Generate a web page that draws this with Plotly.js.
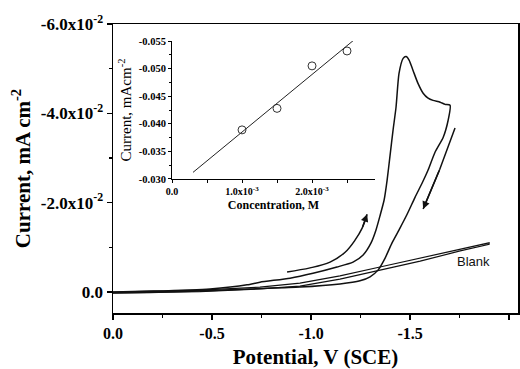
<!DOCTYPE html>
<html>
<head>
<meta charset="utf-8">
<script src="https://cdn.plot.ly/plotly-3.0.1.min.js"></script>
<style>html,body{margin:0;padding:0;background:#fff;}#chart{width:520px;height:369px;}</style>
</head>
<body>
<div id="chart"></div>
<script>
// ---- Main CV data (Potential V vs SCE, Current mA cm^-2) ----
const cvPotential = [0, -0.187, -0.439, -0.692, -0.944, -1.146, -1.247, -1.298, -1.338, -1.374, -1.409, -1.449, -1.485, -1.525, -1.561, -1.591, -1.626, -1.667, -1.692, -1.702,
  -1.677, -1.652, -1.616, -1.591, -1.566, -1.540, -1.515, -1.495, -1.480, -1.465, -1.444, -1.429, -1.414, -1.399, -1.384, -1.369, -1.349, -1.328, -1.303, -1.263, -1.212, -1.131, -1.010, -0.894, -0.742, -0.677, -0.490, -0.202, 0];
const cvCurrent = [0.0002, 0.0001, -0.0002, -0.0007, -0.0011, -0.0018, -0.0025, -0.0034, -0.0049, -0.0076, -0.0110, -0.0143, -0.0174, -0.0212, -0.0244, -0.0273, -0.0313, -0.0346, -0.0384, -0.0418,
  -0.0420, -0.0425, -0.0429, -0.0434, -0.0445, -0.0467, -0.0496, -0.0519, -0.0527, -0.0523, -0.0489, -0.0413, -0.0362, -0.0306, -0.0250, -0.0206, -0.0172, -0.0139, -0.0110, -0.0083, -0.0067, -0.0056, -0.0042, -0.0031, -0.0022, -0.0016, -0.0007, -0.0002, 0];

const blankPotential = [0, -0.439, -0.742, -0.944, -1.146, -1.348, -1.551, -1.753, -1.899,
  -1.899, -1.753, -1.551, -1.348, -1.146, -0.944, -0.742, -0.439, 0];
const blankCurrent = [0.0002, -0.0001, -0.0007, -0.0013, -0.0029, -0.0049, -0.0069, -0.0092, -0.0107,
  -0.0110, -0.0096, -0.0076, -0.0056, -0.0036, -0.0020, -0.0011, -0.0004, 0];

// scan-direction arrows
const arrowFwdPotential = [-0.879, -0.995, -1.096, -1.172, -1.222, -1.258, -1.283];
const arrowFwdCurrent = [-0.0045, -0.0054, -0.0067, -0.0089, -0.0116, -0.0143, -0.0174];
const arrowRevPotential = [-1.727, -1.650, -1.566];
const arrowRevCurrent = [-0.0367, -0.0275, -0.0186];

// ---- Inset: current vs concentration ----
const concentration = [0.0010, 0.0015, 0.0020, 0.0025];
const insetCurrent = [-0.0389, -0.0428, -0.0505, -0.0532];
const fitConc = [0.00030, 0.00259];
const fitCurrent = [-0.0312, -0.0551];

// tick labels
const mainXTicks = [0, -0.5, -1.0, -1.5, -2.0];
const mainXText = ['0.0', '-0.5', '-1.0', '-1.5', '-2.0'];
const mainYTicks = [0, -0.02, -0.04, -0.06];
const mainYText = ['0.0', '-2.0x10<sup>-2</sup>', '-4.0x10<sup>-2</sup>', '-6.0x10<sup>-2</sup>'];
const insetXTicks = [0, 0.001, 0.002];
const insetXText = ['0.0', '1.0x10<sup>-3</sup>', '2.0x10<sup>-3</sup>'];
const insetYTicks = [-0.055, -0.050, -0.045, -0.040, -0.035, -0.030];
const insetYText = ['-0.055', '-0.050', '-0.045', '-0.040', '-0.035', '-0.030'];

const serif = 'Liberation Serif, Times New Roman, serif';
const black = '#000';

const traces = [
  {x: blankPotential, y: blankCurrent, mode: 'lines', line: {color: '#111', width: 1.2}, xaxis: 'x', yaxis: 'y', hoverinfo: 'skip'},
  {x: cvPotential, y: cvCurrent, mode: 'lines', line: {color: '#111', width: 1.5, shape: 'spline', smoothing: 0.6}, xaxis: 'x', yaxis: 'y', hoverinfo: 'skip'},
  {x: arrowFwdPotential, y: arrowFwdCurrent, mode: 'lines', line: {color: '#111', width: 1.5, shape: 'spline'}, xaxis: 'x', yaxis: 'y', hoverinfo: 'skip'},
  {x: arrowRevPotential, y: arrowRevCurrent, mode: 'lines', line: {color: '#111', width: 1.5}, xaxis: 'x', yaxis: 'y', hoverinfo: 'skip'},
  {x: fitConc, y: fitCurrent, mode: 'lines', line: {color: '#222', width: 1}, xaxis: 'x2', yaxis: 'y2', hoverinfo: 'skip'},
  {x: concentration, y: insetCurrent, mode: 'markers', marker: {symbol: 'circle-open', size: 8, color: '#333', line: {width: 1}}, xaxis: 'x2', yaxis: 'y2', hoverinfo: 'skip'}
];

const nF = arrowFwdPotential.length, nR = arrowRevPotential.length;
const annotations = [
  {x: arrowFwdPotential[nF - 1], y: arrowFwdCurrent[nF - 1], ax: arrowFwdPotential[nF - 2], ay: arrowFwdCurrent[nF - 2],
   xref: 'x', yref: 'y', axref: 'x', ayref: 'y', showarrow: true, arrowhead: 2, arrowsize: 1, arrowwidth: 1.5, arrowcolor: '#111', text: ''},
  {x: arrowRevPotential[nR - 1], y: arrowRevCurrent[nR - 1], ax: arrowRevPotential[nR - 2], ay: arrowRevCurrent[nR - 2],
   xref: 'x', yref: 'y', axref: 'x', ayref: 'y', showarrow: true, arrowhead: 2, arrowsize: 1, arrowwidth: 1.5, arrowcolor: '#111', text: ''},
  {x: -1.818, y: -0.0069, xref: 'x', yref: 'y', text: 'Blank', showarrow: false,
   font: {family: 'Liberation Sans, Arial, sans-serif', size: 13, color: '#111'}}
];

const layout = {
  width: 520, height: 369,
  margin: {l: 113, r: 2, t: 24, b: 56},
  paper_bgcolor: '#fff', plot_bgcolor: 'rgba(0,0,0,0)',
  showlegend: false,
  xaxis: {
    domain: [0, 1], anchor: 'y', range: [0, -2.045],
    tickmode: 'array', tickvals: mainXTicks, ticktext: mainXText,
    ticks: 'outside', ticklen: 5, tickwidth: 1.5, tickcolor: black,
    minor: {dtick: 0.25, tick0: 0, ticks: 'outside', ticklen: 3, tickwidth: 1.2, tickcolor: black},
    showline: true, mirror: true, linecolor: black, linewidth: 1.5,
    showgrid: false, zeroline: false,
    tickfont: {family: serif, size: 16, color: black, weight: 'bold'},
    title: {text: 'Potential, V (SCE)', standoff: 8, font: {family: serif, size: 21, color: black, weight: 'bold'}}
  },
  yaxis: {
    domain: [0, 1], anchor: 'x', range: [0.0047, -0.06],
    tickmode: 'array', tickvals: mainYTicks, ticktext: mainYText,
    ticks: 'outside', ticklen: 5, tickwidth: 1.5, tickcolor: black,
    minor: {dtick: 0.01, tick0: 0, ticks: 'outside', ticklen: 3, tickwidth: 1.2, tickcolor: black},
    showline: true, mirror: true, linecolor: black, linewidth: 1.5,
    showgrid: false, zeroline: false,
    tickfont: {family: serif, size: 17, color: black, weight: 'bold'},
    title: {text: 'Current, mA cm<sup>-2</sup>', standoff: 4, font: {family: serif, size: 21, color: black, weight: 'bold'}}
  },
  xaxis2: {
    domain: [0.1457, 0.647], anchor: 'y2', range: [0, 0.0029],
    tickmode: 'array', tickvals: insetXTicks, ticktext: insetXText,
    ticks: 'outside', ticklen: 3, tickwidth: 1, tickcolor: black,
    minor: {dtick: 0.0005, tick0: 0, ticks: 'outside', ticklen: 3, tickwidth: 1, tickcolor: black},
    showline: true, mirror: false, linecolor: black, linewidth: 1,
    showgrid: false, zeroline: false,
    tickfont: {family: serif, size: 10, color: black, weight: 'bold'},
    title: {text: 'Concentration, M', standoff: 4, font: {family: serif, size: 12, color: black, weight: 'bold'}}
  },
  yaxis2: {
    domain: [0.4637, 0.941], anchor: 'x2', range: [-0.030, -0.055],
    tickmode: 'array', tickvals: insetYTicks, ticktext: insetYText,
    ticks: 'outside', ticklen: 3, tickwidth: 1, tickcolor: black,
    minor: {dtick: 0.0025, tick0: 0, ticks: 'outside', ticklen: 2, tickwidth: 1, tickcolor: black},
    showline: true, mirror: false, linecolor: black, linewidth: 1,
    showgrid: false, zeroline: false,
    tickfont: {family: serif, size: 10.5, color: black, weight: 'bold'},
    title: {text: 'Current, mAcm<sup>-2</sup>', standoff: 3, font: {family: serif, size: 15, color: black}}
  },
  annotations: annotations
};

Plotly.newPlot('chart', traces, layout, {displayModeBar: false, staticPlot: true});
</script>
</body>
</html>
